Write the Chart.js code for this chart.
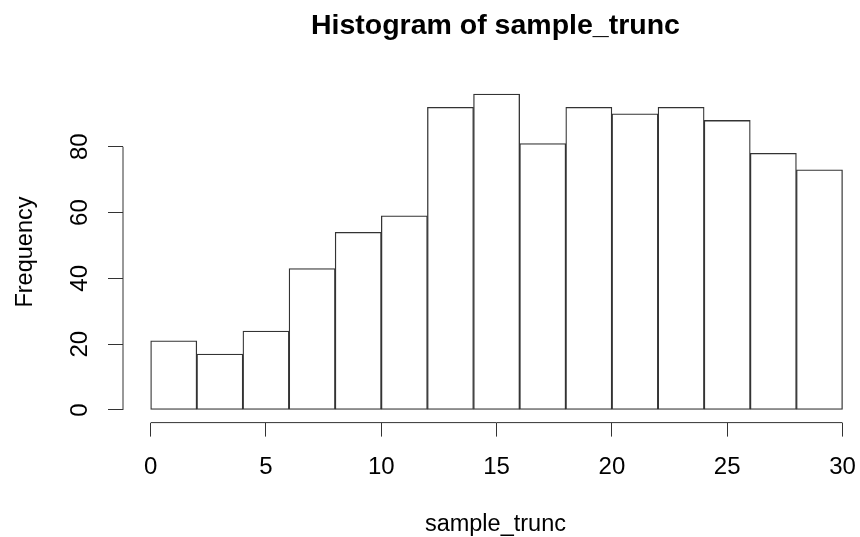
<!DOCTYPE html>
<html>
<head>
<meta charset="utf-8">
<script src="https://cdn.jsdelivr.net/npm/chart.js@4"></script>
<style>
  html, body { margin: 0; padding: 0; background: #fff; overflow: hidden; }
  /* plot region runs a little past the right edge, as in the original R figure */
  #wrap { width: 872px; height: 537px; }
</style>
</head>
<body>
<div id="wrap"><canvas id="histChart" width="872" height="537"></canvas></div>
<script>
// histogram bins (width 2) and their counts
const binCenters = [1, 3, 5, 7, 9, 11, 13, 15, 17, 19, 21, 23, 25, 27, 29];
const frequency = [21, 17, 24, 43, 54, 59, 92, 96, 81, 92, 90, 92, 88, 78, 73];
const xTicks = [0, 5, 10, 15, 20, 25, 30];
const yTicks = [0, 20, 40, 60, 80];

const ink = '#333';
const fontFamily = "'Liberation Sans', Arial, Helvetica, sans-serif";

// white page behind the plot
const whiteBg = {
    id: 'whiteBg',
    beforeDraw(chart) {
        const ctx = chart.ctx;
        ctx.save();
        ctx.fillStyle = '#fff';
        ctx.fillRect(0, 0, chart.width, chart.height);
        ctx.restore();
    }
};

// R style axis lines: only from first to last tick
const rAxes = {
    id: 'rAxes',
    afterDraw(chart) {
        const {ctx, chartArea, scales} = chart;
        const xs = scales.x, ys = scales.y;
        ctx.save();
        ctx.strokeStyle = ink;
        ctx.lineWidth = 1;
        ctx.beginPath();
        ctx.moveTo(chartArea.left, ys.getPixelForValue(yTicks[0]));
        ctx.lineTo(chartArea.left, ys.getPixelForValue(yTicks[yTicks.length - 1]));
        ctx.moveTo(xs.getPixelForValue(xTicks[0]), chartArea.bottom);
        ctx.lineTo(xs.getPixelForValue(xTicks[xTicks.length - 1]), chartArea.bottom);
        ctx.stroke();
        ctx.restore();
    }
};

const ctx = document.getElementById('histChart').getContext('2d');
new Chart(ctx, {
    type: 'bar',
    data: {
        datasets: [{
            label: 'Frequency',
            data: binCenters.map((c, i) => ({ x: c, y: frequency[i] })),
            backgroundColor: '#fff',
            borderColor: ink,
            borderWidth: 1.3,
            borderSkipped: false,
            barPercentage: 1,
            categoryPercentage: 1
        }]
    },
    options: {
        responsive: false,
        animation: false,
        layout: { padding: 0 },
        plugins: {
            legend: { display: false },
            tooltip: { enabled: false },
            title: {
                display: true,
                text: 'Histogram of sample_trunc',
                color: '#000',
                fullSize: false,
                font: { family: fontFamily, size: 28.5, weight: 'bold', lineHeight: 1.2 },
                padding: { top: 9, bottom: 38.3 }
            }
        },
        scales: {
            x: {
                type: 'linear',
                min: -1.2,
                max: 31.1,
                offset: false,
                afterBuildTicks: s => { s.ticks = xTicks.map(v => ({ value: v })); },
                afterFit: s => { s.height = 114.4; },
                border: { display: false },
                grid: { offset: false, drawOnChartArea: false, drawTicks: true, tickLength: 14, color: ink, lineWidth: 1 },
                ticks: {
                    color: '#000',
                    padding: 16,
                    maxRotation: 0,
                    autoSkip: false,
                    font: { family: fontFamily, size: 24 }
                },
                title: {
                    display: true,
                    text: 'sample_trunc',
                    color: '#000',
                    font: { family: fontFamily, size: 23.5, lineHeight: 1 },
                    padding: { top: 0, bottom: 1 }
                }
            },
            y: {
                min: -3.84,
                max: 99.84,
                afterBuildTicks: s => { s.ticks = yTicks.map(v => ({ value: v })); },
                afterFit: s => { s.width = 123; },
                border: { display: false },
                grid: { drawOnChartArea: false, drawTicks: true, tickLength: 15, color: ink, lineWidth: 1 },
                ticks: {
                    color: '#000',
                    padding: 14.7,
                    minRotation: 90,
                    maxRotation: 90,
                    crossAlign: 'center',
                    autoSkip: false,
                    font: { family: fontFamily, size: 24 }
                },
                title: {
                    display: true,
                    text: 'Frequency',
                    color: '#000',
                    font: { family: fontFamily, size: 23.5, lineHeight: 1.2 },
                    padding: { top: 11, bottom: 0 }
                }
            }
        }
    },
    plugins: [whiteBg, rAxes]
});
</script>
</body>
</html>
